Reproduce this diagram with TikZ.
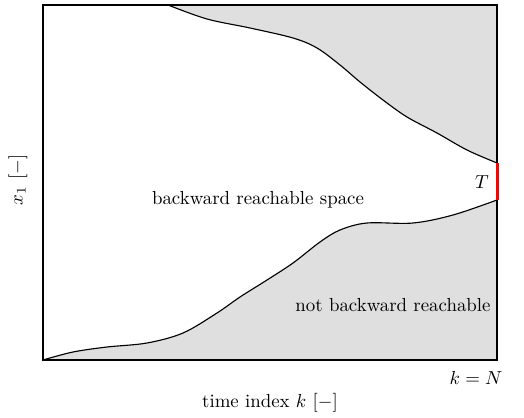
\documentclass[tikz,border=0pt]{standalone}
\usepackage{amsmath}

\begin{document}
\begin{tikzpicture}[x=0.53pt,y=-0.53pt]
\useasboundingbox (0,0) rectangle (524,418);
% shaded (not reachable) regions
\fill[gray!25] (168,5) plot[smooth,tension=0.55] coordinates {(168,5) (207,19) (250,28) (293,38) (317,48) (340,65) (360,82) (383,100) (407,117) (437,133) (467,150) (497,163)} -- (497,5) -- cycle;
\fill[gray!25] (43,360) plot[smooth,tension=0.55] coordinates {(43,360) (73,352) (107,347) (147,343) (183,333) (217,313) (240,297) (267,280) (293,263) (320,242) (340,230) (367,223) (413,223) (453,215) (497,200)} -- (497,360) -- cycle;
\draw[line width=0.6pt] plot[smooth,tension=0.55] coordinates {(168,5) (207,19) (250,28) (293,38) (317,48) (340,65) (360,82) (383,100) (407,117) (437,133) (467,150) (497,163)};
\draw[line width=0.6pt] plot[smooth,tension=0.55] coordinates {(43,360) (73,352) (107,347) (147,343) (183,333) (217,313) (240,297) (267,280) (293,263) (320,242) (340,230) (367,223) (413,223) (453,215) (497,200)};
\draw[line width=0.7pt] (43,5) rectangle (497,360);
\draw[red,line width=1.6pt] (497,163) -- (497,200);
\node (brs) at (258,200) {backward reachable space};
\node (nbr) at (393,305) {not backward reachable};
\node (tgt) at (482,182) {$T$};
\node (kN) at (476,378) {$k=N$};
\node (xlab) at (270,403) {time index $k$ $[-]$};
\node[rotate=90] (ylab) at (18,180) {$x_1$ $[-]$};
\end{tikzpicture}
\end{document}
